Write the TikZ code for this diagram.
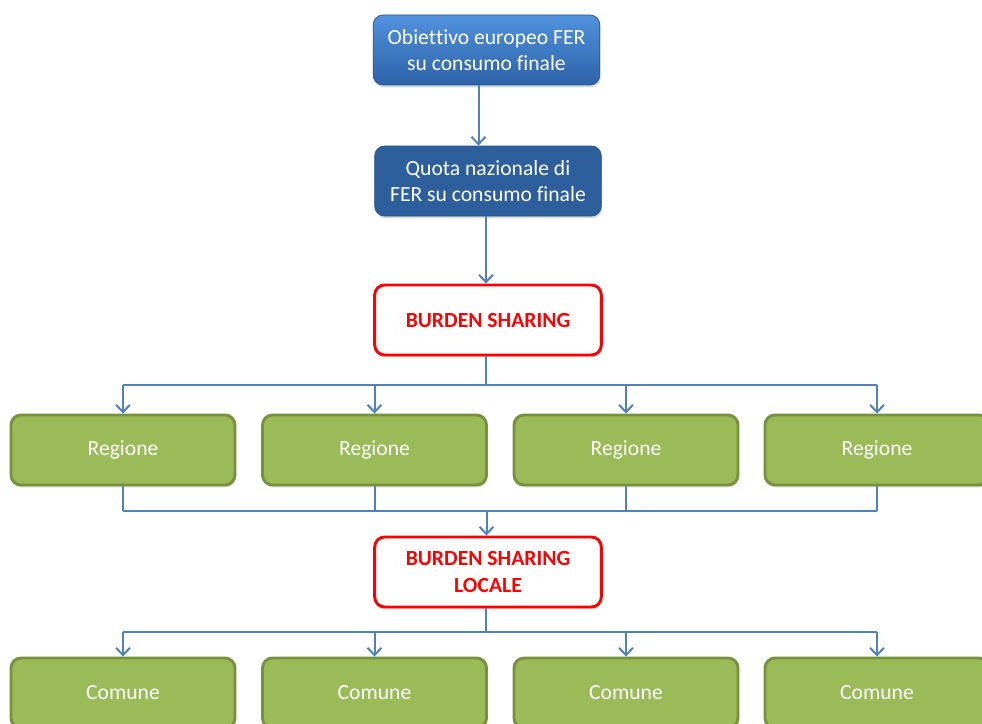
\documentclass[tikz,border=0pt]{standalone}
\usepackage{fontspec}
\setmainfont{Carlito}[Ligatures=NoCommon,Contextuals=NoAlternate]
\usetikzlibrary{arrows.meta,shadows}

\definecolor{topblueA}{RGB}{82,146,222}
\definecolor{topblueB}{RGB}{44,98,168}
\definecolor{navybox}{RGB}{45,95,157}
\definecolor{navyedge}{RGB}{40,84,140}
\definecolor{olivefill}{RGB}{155,187,89}
\definecolor{oliveedge}{RGB}{118,146,60}
\definecolor{linkblue}{RGB}{79,129,189}
\definecolor{alertred}{RGB}{255,0,0}

\tikzset{
  softshadow/.style={drop shadow={shadow xshift=0.6pt,shadow yshift=-1.8pt,opacity=0.25,fill=black!60}},
  box/.style={rounded corners=7.5pt, minimum width=170pt, minimum height=52.5pt,
    align=center, font=\fontsize{16.2}{19.5}\selectfont, inner sep=2pt, softshadow},
  bluebox/.style={box, draw=topblueB!90!black, line width=0.6pt, text=white,
    top color=topblueA, bottom color=topblueB},
  navy/.style={box, draw=navyedge, line width=0.6pt, fill=navybox, text=white},
  redbox/.style={box, draw=alertred, line width=2.2pt, fill=white, text=alertred,
    font=\fontsize{16.2}{20.5}\selectfont\bfseries},
  greenbox/.style={box, minimum width=168pt, draw=oliveedge, line width=2.2pt,
    fill=olivefill, text=white},
  link/.style={draw=linkblue, line width=1.5pt},
  arr/.style={link, -{Straight Barb[length=5.5pt,width=10.5pt,line width=1.5pt]}},
}

\begin{document}
\begin{tikzpicture}[x=0.75pt,y=-0.75pt]
  \useasboundingbox (0,0) rectangle (982,724);
  \clip (0,0) rectangle (982,724);

  % chain at the top
  \node[bluebox] (eu) at (486.5,50) {Obiet\kern0pt tivo europeo FER\\su consumo finale};
  \node[navy] (naz) at (488,181) {Quota nazionale di\\FER su consumo finale};
  \node[redbox] (bs) at (488,320) {BURDEN SHARING};

  % regions
  \foreach \i/\x in {1/123,2/374.5,3/626,4/877}
    \node[greenbox] (r\i) at (\x,450) {Regione};

  \node[redbox] (bsl) at (488,572) {BURDEN SHARING\\LOCALE};

  % municipalities
  \foreach \i/\x in {1/123,2/374.5,3/626,4/877}
    \node[greenbox] (c\i) at (\x,693) {Comune};

  % connectors
  \draw[arr] ([xshift=-6pt]eu.south) -- ([xshift=-6pt]eu.south |- naz.north);
  \draw[arr] ([xshift=-1.5pt]naz.south) -- ([xshift=-1.5pt]naz.south |- bs.north);

  % fan-out to the regions
  \draw[link] ([xshift=-1.5pt]bs.south) -- ++(0,29) coordinate (busA);
  \draw[link] (busA -| r1.north) -- (busA -| r4.north);
  \foreach \i in {1,...,4}
    \draw[arr] (busA -| r\i.north) -- (r\i.north);

  % regions merge into the local burden sharing
  \path (r1.south) ++(0,25) coordinate (busB);
  \draw[link] (busB -| r1.south) -- (busB -| r4.south);
  \foreach \i in {1,...,4}
    \draw[link] (r\i.south) -- (busB -| r\i.south);
  \draw[arr] (busB -| bsl.north) ++(-1.5,0) coordinate (mB) -- (mB |- bsl.north);

  % fan-out to the municipalities
  \draw[link] ([xshift=-1.5pt]bsl.south) -- ++(0,24) coordinate (busC);
  \draw[link] (busC -| c1.north) -- (busC -| c4.north);
  \foreach \i in {1,...,4}
    \draw[arr] (busC -| c\i.north) -- (c\i.north);
\end{tikzpicture}
\end{document}
